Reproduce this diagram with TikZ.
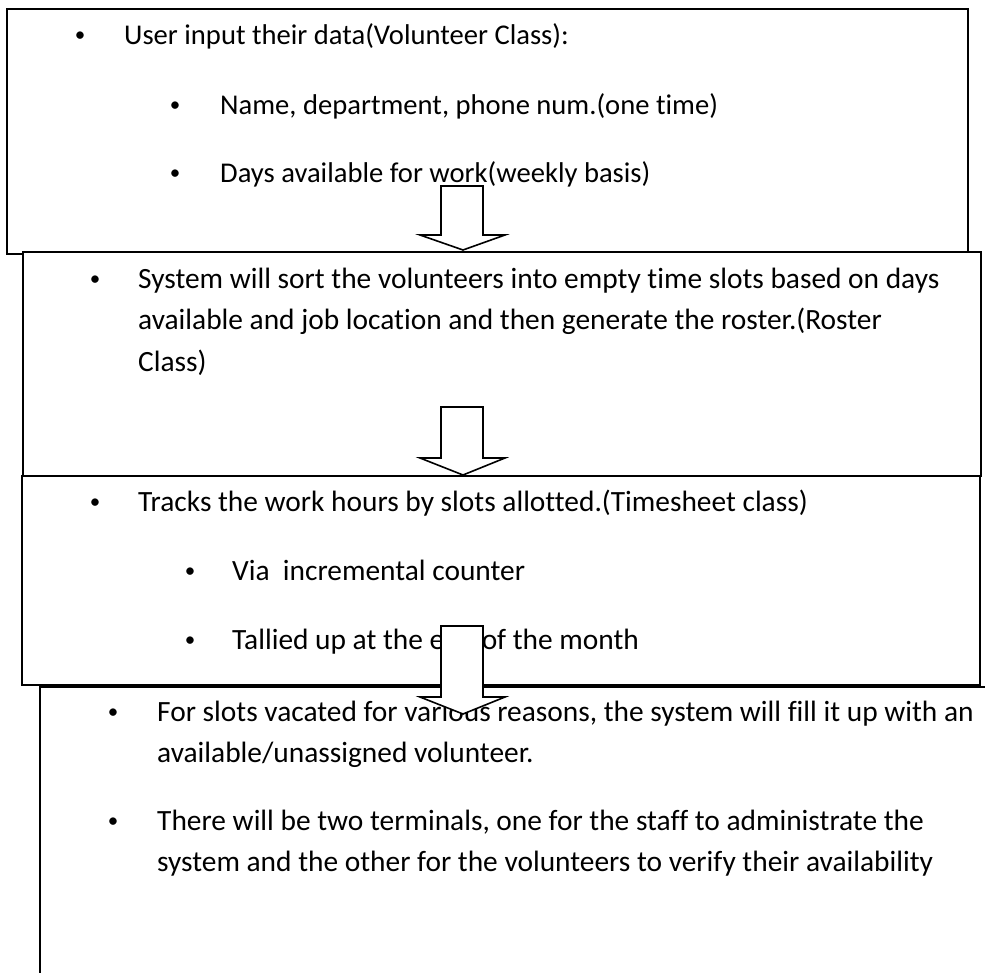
\documentclass[tikz,border=0pt]{standalone}
\usepackage{fontspec}
\setmainfont[Ligatures=NoCommon]{Carlito}
\begin{document}
\begin{tikzpicture}[x=1pt,y=-1pt,
  box/.style={draw=black, line width=1.8pt, fill=white, rectangle, inner sep=0pt, anchor=north west},
  txt/.style={anchor=base west, inner sep=0pt, font=\fontsize{28.6}{40}\selectfont},
  txtb/.style={anchor=base west, inner sep=0pt, font=\fontsize{29.4}{41}\selectfont},
  bul/.style={anchor=base, inner sep=0pt, font=\fontsize{21}{30}\selectfont},
  blockarrow/.style={draw=black, line width=1.6pt, fill=white, line join=miter}]
\useasboundingbox (0,0) rectangle (985,973);
\clip (0,0) rectangle (985,973);
\fill[white] (0,0) rectangle (985,973);
% box 1
\node[box, minimum width=961pt, minimum height=245pt] (b1) at (6,8) {};
\node[bul] (b1u1) at (80,42) {•};
\node[txt] (b1t1) at (124,45) {User input their data(Volunteer Class):};
\node[bul] (b1u2) at (175,112) {•};
\node[txt] (b1t2) at (220,115) {Name, department, phone num.(one time)};
\node[bul] (b1u3) at (175,180) {•};
\node[txt] (b1t3) at (220,183) {Days available for work(weekly basis)};
% box 2
\node[box, minimum width=958pt, minimum height=224pt] (b2) at (22,251) {};
\node[bul] (b2u1) at (95,286) {•};
\node[txtb] (b2t1) at (138,289) {System will sort the volunteers into empty time slots based on days};
\node[txtb] (b2t2) at (138,330) {available and job location and then generate the roster.(Roster};
\node[txtb] (b2t3) at (138,371) {Class)};
\draw[blockarrow] (441,186) -- (483,186) -- (483,235) -- (505,235) -- (463,250) -- (420,235) -- (441,235) -- cycle;
% box 3
\node[box, minimum width=958pt, minimum height=209pt] (b3) at (21,475) {};
\node[bul] (b3u1) at (95,508) {•};
\node[txtb] (b3t1) at (138,511) {Tracks the work hours by slots allotted.(Timesheet class)};
\node[bul] (b3u2) at (190,577) {•};
\node[txtb] (b3t2) at (232,580) {Via\ \ incremental counter};
\node[bul] (b3u3) at (190,646) {•};
\node[txtb] (b3t3) at (232,649) {Tallied up at the end of the month};
\draw[blockarrow] (441,407) -- (483,407) -- (483,458) -- (505,458) -- (463,475) -- (420,458) -- (441,458) -- cycle;
% box 4
\node[box, minimum width=960pt, minimum height=300pt] (b4) at (39,686) {};
\node[bul] (b4u1) at (113,718) {•};
\node[txtb] (b4t1) at (157,721) {For slots vacated for various reasons, the system will fill it up with an};
\node[txtb] (b4t2) at (157,762) {available/unassigned volunteer.};
\node[bul] (b4u2) at (113,827) {•};
\node[txtb] (b4t3) at (157,830) {There will be two terminals, one for the staff to administrate the};
\node[txtb] (b4t4) at (157,871) {system and the other for the volunteers to verify their availability};
\draw[blockarrow] (441,626) -- (483,626) -- (483,697) -- (505,697) -- (463,714) -- (420,697) -- (441,697) -- cycle;
\end{tikzpicture}
\end{document}
